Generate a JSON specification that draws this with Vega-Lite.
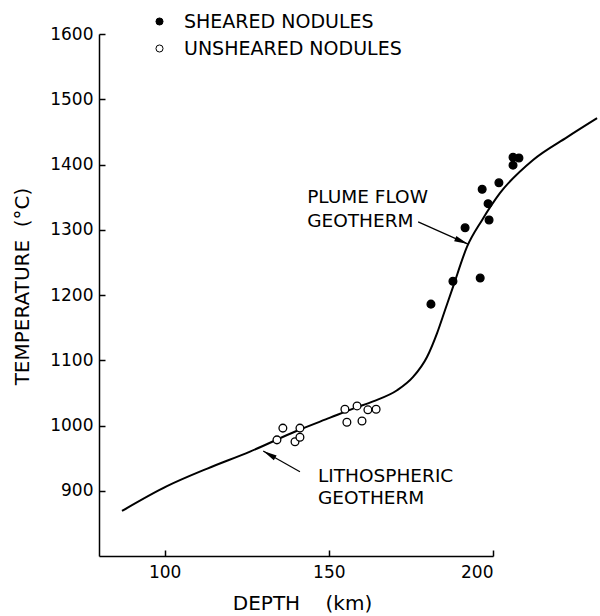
{
  "$schema": "https://vega.github.io/schema/vega-lite/v6.json",
  "width": 394,
  "height": 522,
  "autosize": {"type": "none"},
  "padding": {"left": 99, "top": 34, "right": 107, "bottom": 60},
  "background": "white",
  "config": {
    "view": {"stroke": null},
    "font": "DejaVu Sans",
    "axis": {"grid": false, "domainColor": "black", "domainWidth": 1.5, "tickColor": "black", "tickWidth": 1.5, "labelColor": "black", "titleColor": "black", "labelFont": "DejaVu Sans", "titleFont": "DejaVu Sans", "labelFontSize": 17, "titleFontSize": 20, "titleFontWeight": "normal"}
  },
  "resolve": {"axis": {"x": "independent", "y": "independent"}},
  "datasets": {
    "nodules": [
      {"depth": 181.1, "temp": 1186, "type": "SHEARED NODULES"},
      {"depth": 187.8, "temp": 1221, "type": "SHEARED NODULES"},
      {"depth": 196.1, "temp": 1226, "type": "SHEARED NODULES"},
      {"depth": 191.5, "temp": 1303, "type": "SHEARED NODULES"},
      {"depth": 198.8, "temp": 1315, "type": "SHEARED NODULES"},
      {"depth": 198.5, "temp": 1340, "type": "SHEARED NODULES"},
      {"depth": 196.7, "temp": 1362, "type": "SHEARED NODULES"},
      {"depth": 201.8, "temp": 1372, "type": "SHEARED NODULES"},
      {"depth": 206.1, "temp": 1399, "type": "SHEARED NODULES"},
      {"depth": 206.1, "temp": 1411, "type": "SHEARED NODULES"},
      {"depth": 207.9, "temp": 1410, "type": "SHEARED NODULES"},
      {"depth": 136.0, "temp": 996, "type": "UNSHEARED NODULES"},
      {"depth": 134.2, "temp": 978, "type": "UNSHEARED NODULES"},
      {"depth": 139.7, "temp": 975, "type": "UNSHEARED NODULES"},
      {"depth": 141.2, "temp": 996, "type": "UNSHEARED NODULES"},
      {"depth": 141.2, "temp": 982, "type": "UNSHEARED NODULES"},
      {"depth": 154.9, "temp": 1025, "type": "UNSHEARED NODULES"},
      {"depth": 155.5, "temp": 1005, "type": "UNSHEARED NODULES"},
      {"depth": 160.1, "temp": 1007, "type": "UNSHEARED NODULES"},
      {"depth": 161.9, "temp": 1024, "type": "UNSHEARED NODULES"},
      {"depth": 164.4, "temp": 1025, "type": "UNSHEARED NODULES"},
      {"depth": 158.6, "temp": 1030, "type": "UNSHEARED NODULES"}
    ],
    "geotherm": [
      {"depth": 87.0, "temp": 869},
      {"depth": 100.7, "temp": 907},
      {"depth": 113.0, "temp": 934},
      {"depth": 126.0, "temp": 960},
      {"depth": 140.3, "temp": 992},
      {"depth": 150.4, "temp": 1012},
      {"depth": 158.0, "temp": 1027},
      {"depth": 163.5, "temp": 1037},
      {"depth": 170.8, "temp": 1054},
      {"depth": 175.6, "temp": 1074},
      {"depth": 179.9, "temp": 1105},
      {"depth": 183.0, "temp": 1142},
      {"depth": 185.4, "temp": 1177},
      {"depth": 187.8, "temp": 1212},
      {"depth": 192.1, "temp": 1274},
      {"depth": 196.7, "temp": 1315},
      {"depth": 202.1, "temp": 1356},
      {"depth": 212.2, "temp": 1407},
      {"depth": 222.6, "temp": 1442},
      {"depth": 231.7, "temp": 1471}
    ],
    "labels": [
      {"depth": 143.4, "temp": 1350, "text": "PLUME FLOW"},
      {"depth": 143.4, "temp": 1313, "text": "GEOTHERM"},
      {"depth": 146.7, "temp": 923, "text": "LITHOSPHERIC"},
      {"depth": 146.7, "temp": 889, "text": "GEOTHERM"}
    ],
    "arrows": [
      {"depth": 177.2, "temp": 1312, "depth2": 192.4, "temp2": 1278, "angle": 113},
      {"depth": 141.2, "temp": 929, "depth2": 130.0, "temp2": 961, "angle": 300}
    ]
  },
  "layer": [
    {
      "data": {"name": "geotherm"},
      "mark": {"type": "line", "color": "black", "strokeWidth": 2, "interpolate": "monotone", "clip": false},
      "encoding": {
        "x": {"field": "depth", "type": "quantitative", "scale": {"domain": [80, 200], "nice": false, "zero": false},
          "axis": {"values": [100, 150, 200], "ticks": false, "labelPadding": 8, "title": "DEPTH\u00a0\u00a0\u00a0\u00a0(km)", "titleX": 203, "titleY": 47, "titleBaseline": "middle"}},
        "y": {"field": "temp", "type": "quantitative", "scale": {"domain": [800, 1600], "nice": false, "zero": false},
          "axis": {"values": [900, 1000, 1100, 1200, 1300, 1400, 1500, 1600], "format": "d", "ticks": false, "labelPadding": 6, "title": "TEMPERATURE\u00a0\u00a0(°C)", "titleX": -77, "titleY": 252, "titleBaseline": "middle", "titleAlign": "center", "titleAngle": -90}}
      }
    },
    {
      "data": {"name": "nodules"},
      "mark": {"type": "point", "filled": true, "stroke": "black", "strokeWidth": 1.3, "size": 60, "opacity": 1, "clip": false},
      "encoding": {
        "x": {"field": "depth", "type": "quantitative",
          "axis": {"orient": "bottom", "offset": -6, "values": [100, 150, 200], "ticks": true, "tickSize": 6, "labels": false, "domain": false, "title": null}},
        "y": {"field": "temp", "type": "quantitative",
          "axis": {"orient": "left", "offset": -6, "values": [900, 1000, 1100, 1200, 1300, 1400, 1500, 1600], "ticks": true, "tickSize": 6, "labels": false, "domain": false, "title": null}},
        "fill": {"field": "type", "type": "nominal", "scale": {"domain": ["SHEARED NODULES", "UNSHEARED NODULES"], "range": ["black", "white"]},
          "legend": {"title": null, "orient": "none", "legendX": 51, "legendY": -22, "padding": 0, "symbolType": "circle", "symbolSize": 50, "symbolStrokeColor": "black", "symbolStrokeWidth": 1, "labelFontSize": 19, "labelFont": "DejaVu Sans", "labelColor": "black", "labelOffset": 15, "labelLimit": 400, "rowPadding": 7}}
      }
    },
    {
      "data": {"name": "labels"},
      "mark": {"type": "text", "align": "left", "baseline": "middle", "fontSize": 18.5, "font": "DejaVu Sans", "color": "black", "clip": false},
      "encoding": {
        "x": {"field": "depth", "type": "quantitative", "axis": null},
        "y": {"field": "temp", "type": "quantitative", "axis": null},
        "text": {"field": "text"}
      }
    },
    {
      "data": {"name": "arrows"},
      "mark": {"type": "rule", "color": "black", "strokeWidth": 1.2},
      "encoding": {
        "x": {"field": "depth", "type": "quantitative", "axis": null},
        "y": {"field": "temp", "type": "quantitative", "axis": null},
        "x2": {"field": "depth2"},
        "y2": {"field": "temp2"}
      }
    },
    {
      "data": {"name": "arrows"},
      "mark": {"type": "point", "shape": "M0,0L0.45,2.2L-0.45,2.2Z", "filled": true, "color": "black", "size": 160, "opacity": 1},
      "encoding": {
        "x": {"field": "depth2", "type": "quantitative", "axis": null},
        "y": {"field": "temp2", "type": "quantitative", "axis": null},
        "angle": {"field": "angle", "type": "quantitative", "scale": null}
      }
    }
  ]
}
